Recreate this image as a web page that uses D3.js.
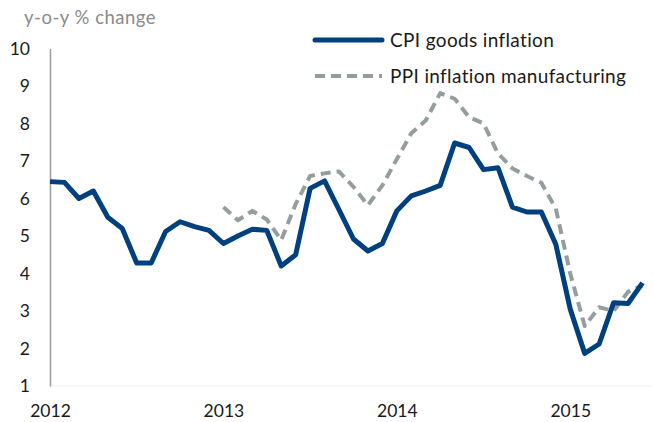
<!DOCTYPE html>
<html>
<head>
<meta charset="utf-8">
<script src="https://cdn.jsdelivr.net/npm/d3@7"></script>
<style>
  html, body { margin: 0; padding: 0; background: #fff; }
  svg { display: block; font-family: Lato, "Open Sans", sans-serif; }
</style>
</head>
<body>
<div id="chart"></div>
<script>
// monthly, Jan 2012 .. Jun 2015
const months = d3.range(42).map(i => new Date(2012, i, 1));
const yearTicks = ["2012", "2013", "2014", "2015"];
const yTicks = [1, 2, 3, 4, 5, 6, 7, 8, 9, 10];

const cpiGoods = [
  6.45, 6.43, 6.0, 6.2, 5.5, 5.2, 4.28, 4.28, 5.12, 5.38, 5.25, 5.15,
  4.8, 5.0, 5.18, 5.15, 4.2, 4.5, 6.27, 6.47, 5.7, 4.92, 4.6, 4.8,
  5.67, 6.07, 6.2, 6.35, 7.48, 7.36, 6.77, 6.82, 5.77, 5.64, 5.64, 4.78,
  3.05, 1.87, 2.12, 3.22, 3.2, 3.75
];
const ppiManuf = [
  null, null, null, null, null, null, null, null, null, null, null, null,
  5.77, 5.42, 5.67, 5.44, 4.89, 5.85, 6.6, 6.67, 6.72, 6.31, 5.82, 6.35,
  7.05, 7.74, 8.08, 8.81, 8.66, 8.17, 8.0, 7.2, 6.8, 6.6, 6.42, 5.73,
  4.0, 2.6, 3.1, 3.0, 3.51, 3.68
];

const series = [
  { name: "CPI goods inflation", values: cpiGoods, color: "#00407e", width: 5, dash: null },
  { name: "PPI inflation manufacturing", values: ppiManuf, color: "#949e9e", width: 4, dash: "10,6" }
];

const W = 654, H = 422;
const svg = d3.select("#chart").append("svg").attr("width", W).attr("height", H);

const x = d3.scaleLinear().domain([0, months.length - 1]).range([50, 642.5]);
const y = d3.scaleLinear().domain([1, 10]).range([386, 48.5]);

// faint baseline
svg.append("line")
  .attr("x1", x(0)).attr("x2", W - 2)
  .attr("y1", y(1)).attr("y2", y(1))
  .attr("stroke", "#f0f0f0");

// y axis
const yAxis = svg.append("g")
  .attr("transform", `translate(${x(0)},0)`)
  .call(d3.axisLeft(y).tickValues(yTicks).tickSize(0).tickPadding(20).tickFormat(d3.format("d")));
yAxis.select(".domain").attr("stroke", "#a0a0a0").attr("stroke-width", 1.6);
yAxis.selectAll("text").attr("font-size", 17.5).attr("fill", "#1a1a1a").attr("font-family", "Lato, sans-serif");

// x axis labels at January of each year
const xAxis = svg.append("g")
  .attr("transform", `translate(0,${y(1)})`)
  .call(d3.axisBottom(x)
    .tickValues(yearTicks.map(t => months.findIndex(m => m.getFullYear() === +t)))
    .tickSize(0).tickPadding(19)
    .tickFormat(i => String(months[i].getFullYear())));
xAxis.select(".domain").remove();
xAxis.selectAll("text").attr("font-size", 17.5).attr("fill", "#1a1a1a").attr("font-family", "Lato, sans-serif");

// axis title
svg.append("text")
  .attr("x", 24).attr("y", 24)
  .attr("font-size", 18.5).attr("letter-spacing", 0.5).attr("fill", "#8a8a8a")
  .text("y-o-y % change");

// lines
const line = d3.line()
  .defined(d => d != null)
  .x((d, i) => x(i))
  .y(d => y(d))
  .curve(d3.curveLinear);

series.slice().reverse().forEach(s => {
  svg.append("path")
    .datum(s.values)
    .attr("fill", "none")
    .attr("stroke", s.color)
    .attr("stroke-width", s.width)
    .attr("stroke-dasharray", s.dash)
    .attr("stroke-linejoin", "round")
    .attr("d", line);
});

// legend
const legend = svg.append("g").attr("transform", "translate(315,40)");
series.forEach((s, i) => {
  const g = legend.append("g").attr("transform", `translate(0,${i * 36})`);
  g.append("line")
    .attr("x1", 0).attr("x2", 67)
    .attr("stroke", s.color)
    .attr("stroke-width", s.width)
    .attr("stroke-dasharray", s.dash)
    .attr("stroke-linecap", s.dash ? "butt" : "round");
  g.append("text")
    .attr("x", 75).attr("dy", "0.35em")
    .attr("font-size", 19).attr("letter-spacing", 0.35).attr("fill", "#1a1a1a")
    .text(s.name);
});
</script>
</body>
</html>
